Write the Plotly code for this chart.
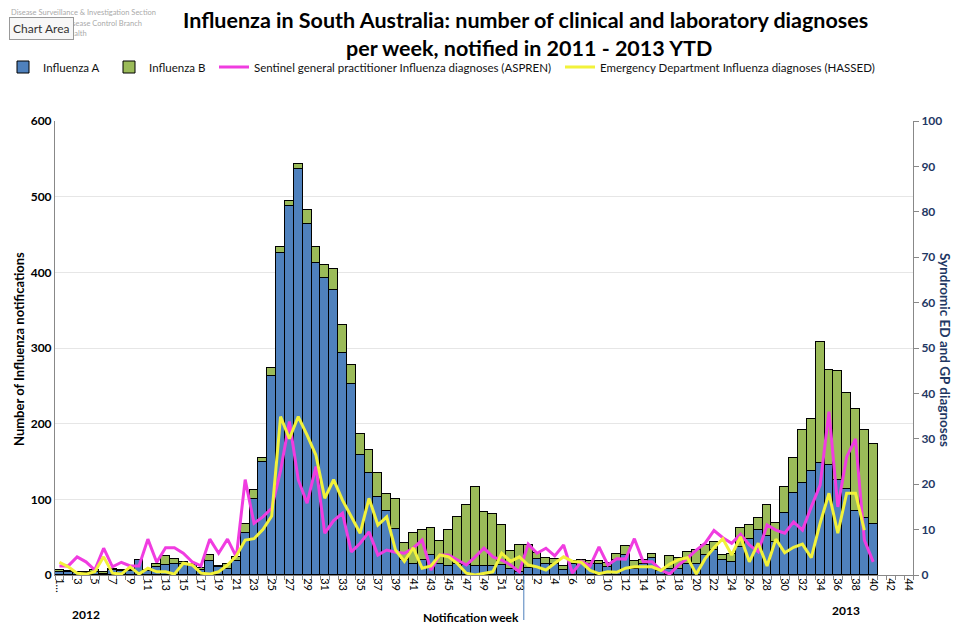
import plotly.graph_objects as go

# 周次：2012年第1-53周，2013年第1-44周
weeks_2012 = list(range(1, 54))
weeks_2013 = list(range(1, 45))

# 每周流感通报数（左轴）
flu_a = [4, 4, 3, 3, 4, 1, 7, 5, 5, 20, 5, 11, 13, 15, 15, 13, 6, 19, 10, 8,
         18, 56, 100, 150, 263, 426, 488, 536, 464, 412, 392, 377, 294, 253, 158, 135, 103, 85, 61, 20,
         15, 20, 26, 14, 12, 14, 13, 12, 12, 12, 13, 8, 4,
         9, 21, 15, 15, 7, 14, 16, 15, 14, 11, 20, 26, 8, 15, 22, 5, 8, 8, 15, 15,
         26, 33, 20, 17, 37, 48, 60, 52, 44, 82, 108, 122, 137, 148, 146, 126, 114, 84, 75, 68,
         None, None, None, None]
flu_b = [3, 1, 1, 1, 2, 3, 1, 1, 2, 0, 1, 3, 12, 6, 2, 2, 3, 7, 2, 7,
         6, 11, 12, 4, 10, 8, 6, 7, 19, 21, 18, 27, 36, 25, 28, 30, 32, 22, 39, 22,
         41, 40, 36, 31, 48, 63, 80, 104, 71, 69, 53, 24, 36,
         31, 8, 7, 6, 5, 4, 4, 4, 4, 5, 8, 12, 10, 5, 6, 2, 17, 14, 15, 18,
         13, 10, 6, 11, 25, 18, 15, 40, 25, 34, 46, 69, 69, 160, 125, 143, 126, 135, 117, 105,
         None, None, None, None]

# 哨点全科医生 (ASPREN) 与急诊 (HASSED) 流感诊断数（右轴）
aspren = [2, 2, 4, 2.9, 1.1, 5.9, 1.8, 2.8, 2, 2, 7.9, 2.8, 6, 6, 4.8, 2.9, 2, 7.9, 4.8, 7.9,
          4, 21, 11.4, 12.8, 14.7, 23, 33.8, 21, 15.8, 23.9, 9.2, 12, 13.6, 5.1, 7, 9.5, 4.4, 5.5, 5, 4.8,
          5.9, 7.7, 1.1, 4.4, 4.4, 3.3, 2.2, 4, 5.9, 4, 3.3, 2.2, 0.7,
          6.8, 4.8, 5.9, 4.2, 6.6, 0.4, 3, 2, 6.2, 2.2, 3.6, 3.5, 8, 2.9, 2.9, 1.1, 0.2, 2.2, 3.7, 5.5,
          7, 9.8, 8.2, 7, 9, 6.6, 5.1, 11, 9.9, 9.2, 11.7, 9.9, 15, 19.8, 36, 15, 26, 30, 7.7, 2.9,
          None, None, None, None]
hassed = [2.8, 1.8, 0.4, 0.2, 0.7, 4, 0.4, 0.2, 1.8, 0.2, 1.5, 0.7, 0.7, 0.2, 2.6, 2.2, 0.4, 0.2, 0.7, 2.2,
          4.2, 7.7, 8, 10, 13, 34.9, 30, 34.9, 30.8, 26.4, 16.9, 21, 16.5, 12.8, 9.2, 16.9, 11, 12.8, 5.5, 3,
          6, 1.5, 2, 4.4, 4, 2.5, 0.4, 0, 0.4, 0.7, 4.8, 3, 4,
          2.2, 1.8, 1.1, 2.6, 4, 3, 2.8, 1, 0.3, 0.7, 0.6, 1.5, 1.8, 1.8, 1.8, 1, 2.4, 3.4, 3.8, 0.2,
          3.6, 6, 8, 4.4, 8.4, 2.9, 7, 2, 7.9, 4.9, 6.1, 6.8, 3.8, 11.4, 18, 9.2, 18, 18, 9.9,
          None, None, None, None, None]

# 分类键与刻度文字（每隔一周显示）
week_keys = [f"2012-{w}" for w in weeks_2012] + [f"2013-{w}" for w in weeks_2013]
week_nums = weeks_2012 + weeks_2013
tick_text = []
for i, w in enumerate(week_nums):
    if i == 0:
        tick_text.append("1…")
    elif i % 2 == 0:
        tick_text.append(str(w))
    else:
        tick_text.append("")

FONT = "Lato, Liberation Sans, sans-serif"
NAVY = "#1f3864"

fig = go.Figure()

fig.add_trace(go.Bar(x=week_keys, y=flu_a, name="Influenza A", legend="legend",
                     marker=dict(color="#4f81bd", line=dict(color="black", width=1))))
fig.add_trace(go.Bar(x=week_keys, y=flu_b, name="Influenza B", legend="legend2",
                     marker=dict(color="#9bbb59", line=dict(color="black", width=1))))
fig.add_trace(go.Scatter(x=week_keys, y=aspren, yaxis="y2", mode="lines", legend="legend3",
                         name="Sentinel general practitioner Influenza diagnoses (ASPREN)",
                         line=dict(color="#f03ce0", width=3)))
fig.add_trace(go.Scatter(x=week_keys, y=hassed, yaxis="y2", mode="lines", legend="legend4",
                         name="Emergency Department Influenza diagnoses (HASSED)",
                         line=dict(color="#f2f23a", width=3)))


# 页面 body 有 8px 边距；绘图区在页面上为 x 55-913, y 121-575
def px(x):
    return (x - 55) / 858


def py(y):
    return (575 - y) / 454


# 图例分成四个，各自定位
def leg(xpix):
    return dict(x=px(xpix), xanchor="left", y=py(67), yanchor="middle", orientation="h",
                font=dict(family=FONT, size=11.5, color="#111"), bgcolor="rgba(0,0,0,0)",
                borderwidth=0)


fig.update_layout(
    width=960, height=623,
    barmode="stack", bargap=0,
    paper_bgcolor="white", plot_bgcolor="white",
    margin=dict(l=47, r=55, t=113, b=56, autoexpand=False),
    font=dict(family=FONT, size=11, color="black"),
    legend=leg(3), legend2=leg(109), legend3=leg(214), legend4=leg(560),
    xaxis=dict(type="category", tickvals=week_keys, ticktext=tick_text, automargin=False,
               tickangle=90, tickson="boundaries", ticks="outside", ticklen=4,
               tickcolor="#888", showline=True, linecolor="#888", linewidth=1,
               showgrid=False, tickfont=dict(size=11),
               range=[-0.5, len(week_keys) - 0.5]),
    yaxis=dict(range=[0, 600], dtick=100, showgrid=True, gridcolor="#e6e6e6", automargin=False,
               showline=True, linecolor="#888", ticks="",
               tickfont=dict(size=12, color="black", family=FONT), tickprefix="<b>", ticksuffix="</b>",
               zeroline=False),
    yaxis2=dict(range=[0, 100], dtick=10, overlaying="y", side="right", showgrid=False,
                automargin=False,
                showline=True, linecolor="#888", ticks="outside", ticklen=5, tickcolor="#888",
                tickfont=dict(size=12, color=NAVY, family=FONT), tickprefix="<b>", ticksuffix="</b>",
                zeroline=False),
    showlegend=True,
)

# 年份分隔线
fig.add_shape(type="line", xref="x", yref="paper", x0=52.5, x1=52.5, y0=0, y1=py(620),
              line=dict(color="#4f81bd", width=1))

annotations = [
    dict(text="<b>Influenza in South Australia: number of clinical and laboratory diagnoses</b>",
         x=px(525), y=py(20), font=dict(size=21.5)),
    dict(text="<b>per week, notified in 2011 - 2013 YTD</b>",
         x=px(529), y=py(48), font=dict(size=21.5)),
    dict(text="<b>Number of Influenza notifications</b>", x=px(9), xanchor="left",
         y=py(349), textangle=-90, font=dict(size=13)),
    dict(text="<b>Syndromic ED and GP diagnoses</b>", x=px(955), y=py(350),
         textangle=90, font=dict(size=13.5, color=NAVY)),
    dict(text="<b>Notification week</b>", x=px(471), y=py(617), font=dict(size=12)),
    dict(text="<b>2012</b>", x=px(70), y=py(614), font=dict(size=12)),
    dict(text="<b>2013</b>", x=px(862), y=py(610), font=dict(size=12)),
    dict(text="Disease Surveillance &amp; Investigation Section", x=px(9), xanchor="left",
         y=py(13), font=dict(size=7.5, color="#aaaaaa")),
    dict(text="Communicable Disease Control Branch", x=px(12), xanchor="left",
         y=py(23), font=dict(size=7.5, color="#aaaaaa")),
    dict(text="SA Health", x=px(52), xanchor="left",
         y=py(33), font=dict(size=7.5, color="#aaaaaa")),
    dict(text="Chart Area", x=px(9), xanchor="left", y=py(28),
         bgcolor="#f7f7f7", bordercolor="#999999", borderwidth=1, borderpad=3,
         font=dict(size=12, color="#333333")),
]
for a in annotations:
    a.setdefault("xref", "paper")
    a.setdefault("yref", "paper")
    a.setdefault("yanchor", "middle")
    a.setdefault("showarrow", False)
    fig.add_annotation(**a)

fig.write_html("out.html")
